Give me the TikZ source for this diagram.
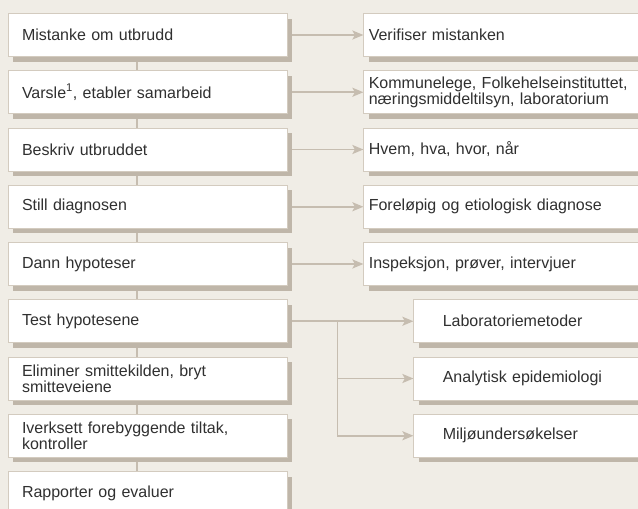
\documentclass[tikz,border=0pt]{standalone}
\usepackage{fontspec}
\setmainfont{Liberation Sans}
\usetikzlibrary{positioning,shadows,arrows.meta,backgrounds}

\definecolor{paper}{HTML}{F0EDE6}
\definecolor{frame}{HTML}{D3CBBF}
\definecolor{shade}{HTML}{BFB6A9}
\definecolor{wirec}{HTML}{C6BDB0}
\definecolor{ink}{HTML}{303030}

\tikzset{
  box/.style={draw=frame,line width=0.8pt,fill=white,minimum height=43pt,
    align=left,text=ink,font=\fontsize{16}{13.5}\selectfont,
    drop shadow={shadow xshift=5pt,shadow yshift=-5pt,fill=shade,opacity=1}},
  stepbox/.style={box,text width=251pt,inner xsep=14pt},
  notebox/.style={box,text width=280pt,inner xsep=5pt},
  subbox/.style={box,text width=200pt,inner xsep=29pt},
  wire/.style={draw=wirec,line width=1.8pt},
  arrow/.style={wire,-{Stealth[length=11pt,width=9pt,inset=2.5pt]}},
}

\begin{document}
\begin{tikzpicture}[x=1pt,y=-1pt,node distance=13.45pt]
\useasboundingbox (0,0) rectangle (638,509);
% steps
\node[stepbox] (m1) at (147.5,35) {Mistanke om utbrudd};
\node[stepbox,below=of m1] (m2) {Varsle\textsuperscript{1}, etabler samarbeid};
\node[stepbox,below=of m2] (m3) {Beskriv utbruddet};
\node[stepbox,below=of m3] (m4) {Still diagnosen};
\node[stepbox,below=of m4] (m5) {Dann hypoteser};
\node[stepbox,below=of m5] (m6) {Test hypotesene};
\node[stepbox,below=of m6] (m7) {Eliminer smittekilden, bryt\\smitteveiene};
\node[stepbox,below=of m7] (m8) {Iverksett forebyggende tiltak,\\kontroller};
\node[stepbox,below=of m8] (m9) {Rapporter og evaluer};
% notes
\node[notebox,right=76pt of m1] (r1) {Verifiser mistanken};
\node[notebox,right=76pt of m2] (r2) {Kommunelege, Folkehelseinstituttet,\\næringsmiddeltilsyn, laboratorium};
\node[notebox,right=76pt of m3] (r3) {Hvem, hva, hvor, når};
\node[notebox,right=76pt of m4] (r4) {Foreløpig og etiologisk diagnose};
\node[notebox,right=76pt of m5] (r5) {Inspeksjon, prøver, intervjuer};
% tests
\node[subbox,right=126pt of m6] (s1) {Laboratoriemetoder};
\node[subbox,right=126pt of m7] (s2) {Analytisk epidemiologi};
\node[subbox,right=126pt of m8] (s3) {Miljøundersøkelser};
\coordinate[right=50pt of m6.east] (fork);

\begin{scope}[on background layer]
  \fill[paper] (0,0) rectangle (638,509);
  \draw[wire] ([xshift=-10.5pt]m1.center) -- ([xshift=-10.5pt]m9.center);
  \foreach \i in {1,...,5} \draw[arrow] (m\i) -- (r\i);
  \draw[arrow] (m6) -- (s1);
  \draw[arrow] (fork) |- (s2);
  \draw[arrow] (fork) |- (s3);
\end{scope}
\end{tikzpicture}
\end{document}
